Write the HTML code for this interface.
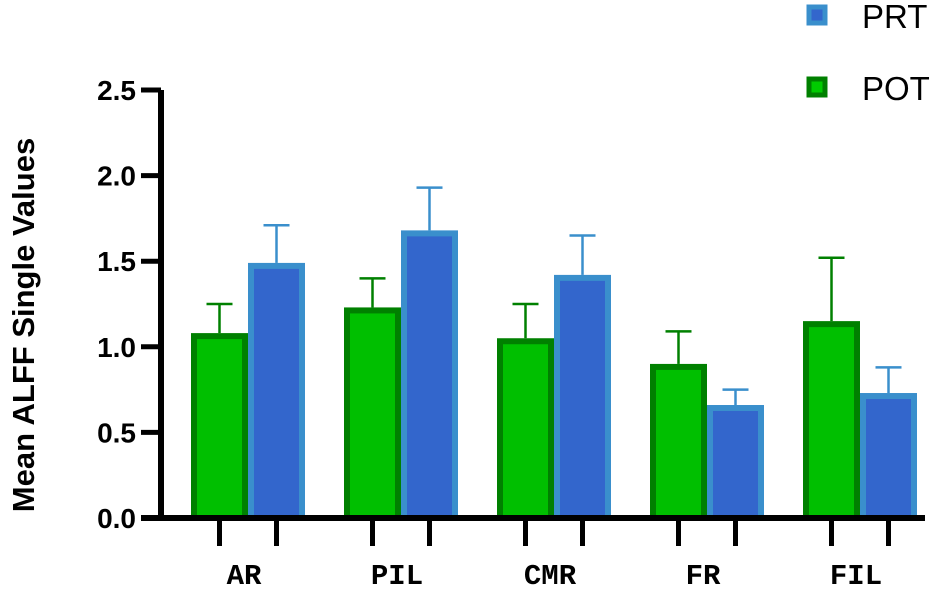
<!DOCTYPE html>
<html><head><meta charset="utf-8"><style>
body{margin:0;background:#fff;}
svg{display:block;font-family:"Liberation Sans",sans-serif;}
</style></head><body>
<svg id="chart" width="950" height="612" viewBox="0 0 950 612"></svg>
<script>
const categories=["AR","PIL","CMR","FR","FIL"];
const potValues=[1.08,1.23,1.05,0.90,1.15];
const potErr=[0.17,0.17,0.20,0.19,0.37];
const prtValues=[1.49,1.68,1.42,0.66,0.73];
const prtErr=[0.22,0.25,0.23,0.09,0.15];
const yTicks=[0,0.5,1.0,1.5,2.0,2.5];
const yTickLabels=["0.0","0.5","1.0","1.5","2.0","2.5"];

const NS="http://www.w3.org/2000/svg";
const svg=document.getElementById('chart');
const y0=518,pxPer=171.2,x0=191,groupStep=153,barW=57;
const yScale=v=>y0-v*pxPer;
const xScale=(i,s)=>x0+i*groupStep+s*barW;
function mk(tag,attrs,parent){const e=document.createElementNS(NS,tag);for(const k in attrs)e.setAttribute(k,attrs[k]);(parent||svg).appendChild(e);return e;}

categories.forEach((c,i)=>{
  [[potValues,potErr,"#00bf00","#008000",0,"pot"],[prtValues,prtErr,"#3366cc","#3a8fcc",1,"prt"]].forEach(([vals,errs,fill,stroke,s,nm])=>{
    const x=xScale(i,s),yt=yScale(vals[i]),ye=yScale(vals[i]+errs[i]),cx=x+barW/2;
    const el=mk('line',{x1:cx,y1:yt,x2:cx,y2:ye,stroke:stroke,'stroke-width':2.5});
    
    
    const cap=mk('line',{x1:cx-13,y1:ye,x2:cx+13,y2:ye,stroke:stroke,'stroke-width':2.5});
    
    
    const r=mk('rect',{x:x+3,y:yt+3,width:barW-6,height:y0-yt-3,fill:fill,stroke:stroke,'stroke-width':6});
    
    
    const t=mk('line',{x1:cx,y1:y0,x2:cx,y2:546,stroke:'#000','stroke-width':5});
    
    
  });
  const lb=mk('text',{x:xScale(i,1)-4,y:584,'text-anchor':'middle','font-size':29,'font-weight':'bold','font-family':'Liberation Mono, monospace'});
  lb.textContent=c;
  
  
});
const ya=mk('line',{x1:161,y1:90,x2:161,y2:521,stroke:'#000','stroke-width':6});


const xa=mk('line',{x1:141,y1:518,x2:925,y2:518,stroke:'#000','stroke-width':6});


yTicks.forEach((v,i)=>{
  const tk=mk('line',{x1:141,y1:yScale(v),x2:161,y2:yScale(v),stroke:'#000','stroke-width':5});
  
  
  const tl=mk('text',{x:136,y:yScale(v)+10,'text-anchor':'end','font-size':28,'font-weight':'bold'});
  tl.textContent=yTickLabels[i];
  
  
});
const yt=mk('text',{x:0,y:0,transform:'translate(34,325) rotate(-90)','text-anchor':'middle','font-size':31,'font-weight':'bold'});
yt.textContent='Mean ALFF Single Values';


[["PRT","#3366cc","#3a8fcc",4],["POT","#00cc00","#008000",76]].forEach(([n,f,s,y])=>{
  const g=mk('g',{});
  
  
  mk('rect',{x:809,y:y+3,width:16,height:16,fill:f,stroke:s,'stroke-width':5},g);
  const t=mk('text',{x:862,y:y+24,'font-size':33},g);
  t.textContent=n;
});
</script>
</body></html>
